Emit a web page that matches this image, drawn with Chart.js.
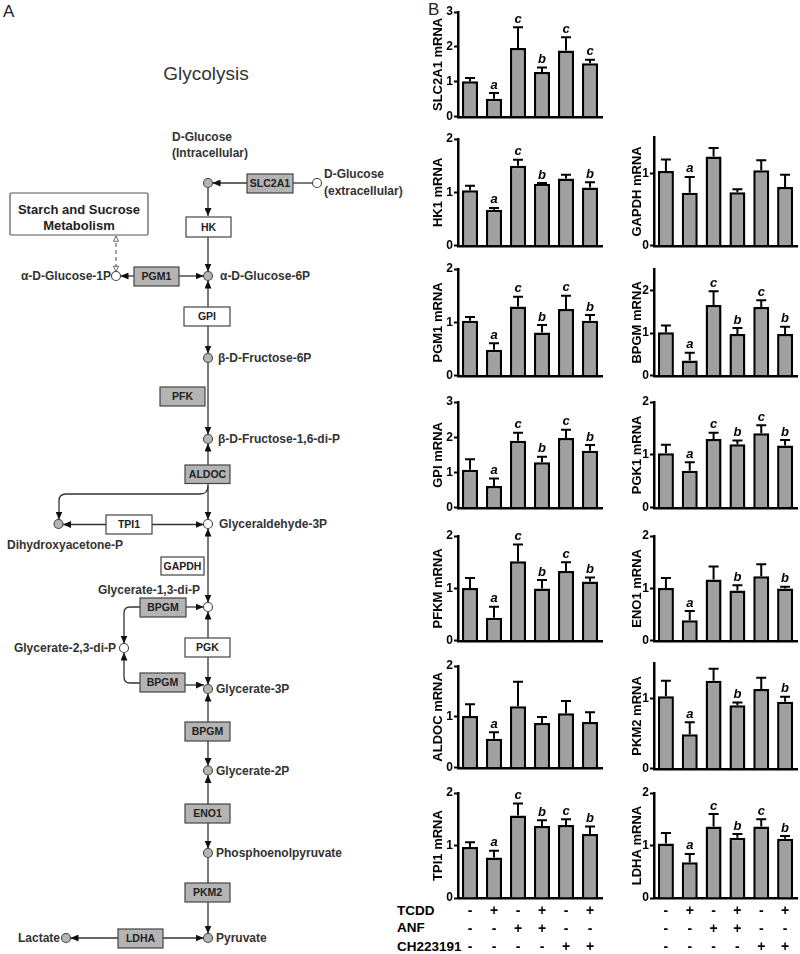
<!DOCTYPE html>
<html>
<head>
<meta charset="utf-8">
<script src="https://cdn.jsdelivr.net/npm/chart.js@4.4.1/dist/chart.umd.min.js"></script>
<style>
  body { margin: 0; background: #fff; }
  #fig { position: relative; width: 800px; height: 954px; overflow: hidden; font-family: 'Liberation Sans', Arial, sans-serif; }
  #fig canvas { position: absolute; }
  #diagram { position: absolute; left: 0; top: 0; }
  .trt { position: absolute; left: 397px; font-weight: bold; font-size: 13.5px; line-height: 18px; color: #000; white-space: nowrap; }
  svg text { font-family: 'Liberation Sans', Arial, sans-serif; }
  .cpd { font-weight: bold; font-size: 12px; fill: #333; }
  .enz { font-weight: bold; font-size: 10.5px; fill: #222; text-anchor: middle; }
  .ln { stroke: #333; stroke-width: 1.3; fill: none; }
</style>
</head>
<body>
<div id="fig">
  <svg id="diagram" width="800" height="954"></svg>
  <div class="trt" style="top:902px">TCDD</div>
  <div class="trt" style="top:919px">ANF</div>
  <div class="trt" style="top:938px">CH223191</div>
</div>
<script>
// ---------- data ----------
const tcddSigns = ['-', '+', '-', '+', '-', '+'];
const anfSigns  = ['-', '-', '+', '+', '-', '-'];
const chSigns   = ['-', '-', '-', '-', '+', '+'];

const ticks3 = [0, 1, 2, 3];
const ticks2 = [0, 1, 2];
const ticks1 = [0, 1];

const slc2a1Mean = [1.02, 0.52, 1.97, 1.28, 1.90, 1.53];
const slc2a1Sem  = [0.09, 0.16, 0.59, 0.13, 0.38, 0.10];
const slc2a1Sig  = ['', 'a', 'c', 'b', 'c', 'c'];

const hk1Mean = [1.04, 0.675, 1.50, 1.16, 1.26, 1.09];
const hk1Sem  = [0.085, 0.035, 0.11, 0.015, 0.07, 0.10];
const hk1Sig  = ['', 'a', 'c', 'b', '', 'b'];

const gapdhMean = [1.03, 0.73, 1.23, 0.74, 1.04, 0.81];
const gapdhSem  = [0.16, 0.22, 0.12, 0.04, 0.14, 0.17];
const gapdhSig  = ['', 'a', '', '', '', ''];

const pgm1Mean = [1.03, 0.49, 1.30, 0.81, 1.25, 1.03];
const pgm1Sem  = [0.07, 0.12, 0.18, 0.14, 0.25, 0.11];
const pgm1Sig  = ['', 'a', 'c', 'b', 'c', 'b'];

const bpgmMean = [1.02, 0.36, 1.66, 0.98, 1.61, 0.98];
const bpgmSem  = [0.16, 0.18, 0.32, 0.14, 0.16, 0.17];
const bpgmSig  = ['', 'a', 'c', 'b', 'c', 'b'];

const gpiMean = [1.08, 0.62, 1.90, 1.29, 1.98, 1.62];
const gpiSem  = [0.30, 0.21, 0.23, 0.16, 0.23, 0.16];
const gpiSig  = ['', 'a', 'c', 'b', 'c', 'b'];

const pgk1Mean = [1.03, 0.70, 1.30, 1.20, 1.41, 1.18];
const pgk1Sem  = [0.16, 0.16, 0.12, 0.07, 0.15, 0.10];
const pgk1Sig  = ['', 'a', 'c', 'b', 'c', 'b'];

const pfkmMean = [1.01, 0.44, 1.52, 1.00, 1.33, 1.13];
const pfkmSem  = [0.19, 0.21, 0.32, 0.16, 0.17, 0.08];
const pfkmSig  = ['', 'a', 'c', 'b', 'c', 'b'];

const eno1Mean = [1.01, 0.39, 1.17, 0.96, 1.23, 1.00];
const eno1Sem  = [0.19, 0.18, 0.25, 0.10, 0.23, 0.03];
const eno1Sig  = ['', 'a', '', 'b', '', 'b'];

const aldocMean = [1.02, 0.57, 1.21, 0.88, 1.07, 0.90];
const aldocSem  = [0.23, 0.13, 0.48, 0.12, 0.24, 0.19];
const aldocSig  = ['', 'a', '', '', '', ''];

const pkm2Mean = [1.03, 0.49, 1.25, 0.90, 1.13, 0.95];
const pkm2Sem  = [0.22, 0.17, 0.17, 0.04, 0.16, 0.07];
const pkm2Sig  = ['', 'a', '', 'b', '', 'b'];

const tpi1Mean = [0.97, 0.77, 1.57, 1.37, 1.39, 1.22];
const tpi1Sem  = [0.09, 0.13, 0.23, 0.11, 0.11, 0.14];
const tpi1Sig  = ['', 'a', 'c', 'b', 'c', 'b'];

const ldhaMean = [1.04, 0.68, 1.36, 1.15, 1.36, 1.13];
const ldhaSem  = [0.20, 0.16, 0.24, 0.07, 0.14, 0.05];
const ldhaSig  = ['', 'a', 'c', 'b', 'c', 'b'];

// ---------- layout ----------
const FONT = "'Liberation Sans', Arial, sans-serif";
const cols = [
  { left: 431, axis: 458, right: 602 },
  { left: 630, axis: 654, right: 797 }
];
const panels = [
  { gene: 'SLC2A1', mean: slc2a1Mean, sem: slc2a1Sem, sig: slc2a1Sig, max: 3,   ticks: ticks3, col: 0, top: 12,  zero: 117 },
  { gene: 'HK1',    mean: hk1Mean,    sem: hk1Sem,    sig: hk1Sig,    max: 2,   ticks: ticks2, col: 0, top: 139, zero: 246 },
  { gene: 'GAPDH',  mean: gapdhMean,  sem: gapdhSem,  sig: gapdhSig,  max: 1.5, ticks: ticks1, col: 1, top: 137, zero: 246 },
  { gene: 'PGM1',   mean: pgm1Mean,   sem: pgm1Sem,   sig: pgm1Sig,   max: 2,   ticks: ticks2, col: 0, top: 269, zero: 376 },
  { gene: 'BPGM',   mean: bpgmMean,   sem: bpgmSem,   sig: bpgmSig,   max: 2.5, ticks: ticks2, col: 1, top: 269, zero: 376 },
  { gene: 'GPI',    mean: gpiMean,    sem: gpiSem,    sig: gpiSig,    max: 3,   ticks: ticks3, col: 0, top: 402, zero: 508 },
  { gene: 'PGK1',   mean: pgk1Mean,   sem: pgk1Sem,   sig: pgk1Sig,   max: 2,   ticks: ticks2, col: 1, top: 402, zero: 508 },
  { gene: 'PFKM',   mean: pfkmMean,   sem: pfkmSem,   sig: pfkmSig,   max: 2,   ticks: ticks2, col: 0, top: 536, zero: 641 },
  { gene: 'ENO1',   mean: eno1Mean,   sem: eno1Sem,   sig: eno1Sig,   max: 2,   ticks: ticks2, col: 1, top: 536, zero: 641 },
  { gene: 'ALDOC',  mean: aldocMean,  sem: aldocSem,  sig: aldocSig,  max: 2,   ticks: ticks2, col: 0, top: 666, zero: 768 },
  { gene: 'PKM2',   mean: pkm2Mean,   sem: pkm2Sem,   sig: pkm2Sig,   max: 1.5, ticks: ticks1, col: 1, top: 663, zero: 769 },
  { gene: 'TPI1',   mean: tpi1Mean,   sem: tpi1Sem,   sig: tpi1Sig,   max: 2,   ticks: ticks2, col: 0, top: 793, zero: 898, bottom: true },
  { gene: 'LDHA',   mean: ldhaMean,   sem: ldhaSem,   sig: ldhaSig,   max: 2,   ticks: ticks2, col: 1, top: 793, zero: 898, bottom: true }
];

// ---------- pathway diagram (panel A) ----------
function drawDiagram() {
  const svg = document.getElementById('diagram');
  const G = '#b4b4b4', W = '#fff';
  const lines = [
    [247, 183, 212.5, 183, 1], [293, 183, 312.5, 183, 0],
    [208, 187.5, 208, 216, 1], [208, 237, 208, 271.5, 1],
    [179, 276, 203.5, 276, 1], [134, 276, 120.5, 276, 1],
    [208, 307, 208, 280.5, 1], [208, 326, 208, 353.5, 1],
    [208, 362.5, 208, 434.5, 1], [208, 465, 208, 443.5, 1],
    [208, 483.5, 208, 519.5, 1],
    [106, 524.5, 63, 524.5, 1], [152, 524.5, 203.5, 524.5, 1],
    [186, 607, 203.5, 607, 1], [185, 685, 204, 685, 1],
    [208, 638, 208, 611.5, 1], [208, 657, 208, 684.5, 1],
    [208, 722, 208, 693.5, 1], [208, 741, 208, 766, 1],
    [208, 804, 208, 775, 1], [208, 823, 208, 848.5, 1],
    [208, 857.5, 208, 883, 0], [208, 902, 208, 933.5, 1],
    [163, 938, 203.5, 938, 1], [118, 938, 70.5, 938, 1]
  ];
  const boxes = [
    ['SLC2A1', 247, 174, 46, 19, G], ['HK', 186, 217, 45, 20, W], ['PGM1', 134, 267, 45, 19, G],
    ['GPI', 184, 307, 46, 19, W], ['PFK', 160, 387, 45, 19, G], ['ALDOC', 185, 465, 45, 18.5, G],
    ['TPI1', 106, 515, 46, 19, W], ['GAPDH', 161, 557, 43, 18, W], ['BPGM', 140, 598, 46, 19, G],
    ['PGK', 185, 638, 45, 19, W], ['BPGM', 140, 673, 45, 19, G], ['BPGM', 185, 722, 45, 19, G],
    ['ENO1', 185, 804, 45, 19, G], ['PKM2', 185, 883, 45, 19, G], ['LDHA', 118, 929, 45, 19, G]
  ];
  const nodes = [
    [208, 183, G], [317, 183, W], [208, 276, G], [116, 276, W], [208, 358, G], [208, 439, G],
    [208, 524, W], [58.5, 524, G], [208, 607, W], [124, 648, W], [208, 689, G], [208, 770.5, G],
    [208, 853, G], [208, 938, G], [66, 938, G]
  ];
  const labels = [
    ['D-Glucose', 172, 141, 'start'], ['(Intracellular)', 172, 157, 'start'],
    ['D-Glucose', 324, 178, 'start'], ['(extracellular)', 324, 195, 'start'],
    ['α-D-Glucose-6P', 220, 280, 'start'], ['α-D-Glucose-1P', 111, 280, 'end'],
    ['β-D-Fructose-6P', 218, 362, 'start'], ['β-D-Fructose-1,6-di-P', 218, 443, 'start'],
    ['Glyceraldehyde-3P', 219, 528, 'start'], ['Dihydroxyacetone-P', 7, 549, 'start'],
    ['Glycerate-1,3-di-P', 200, 593.5, 'end'], ['Glycerate-2,3-di-P', 116, 652, 'end'],
    ['Glycerate-3P', 216, 693, 'start'], ['Glycerate-2P', 216, 775, 'start'],
    ['Phosphoenolpyruvate', 216, 857, 'start'], ['Pyruvate', 216, 942, 'start'],
    ['Lactate', 60, 942, 'end']
  ];

  let s = `<defs>
    <marker id="ah" viewBox="0 0 8 7" refX="8" refY="3.5" markerWidth="8" markerHeight="7" markerUnits="userSpaceOnUse" orient="auto-start-reverse"><path d="M0,0L8,3.5L0,7z" fill="#111"/></marker>
    <marker id="oh" viewBox="0 0 8 8" refX="7" refY="4" markerWidth="7" markerHeight="7" markerUnits="userSpaceOnUse" orient="auto-start-reverse"><path d="M1,1L7,4L1,7z" fill="#fff" stroke="#555" stroke-width="1"/></marker>
  </defs>`;
  s += `<text x="3" y="17" font-size="17" fill="#222">A</text>`;
  s += `<text x="428" y="15" font-size="17" fill="#222">B</text>`;
  s += `<text x="206" y="80" font-size="19" fill="#333" text-anchor="middle">Glycolysis</text>`;

  lines.forEach(([x1, y1, x2, y2, arrow]) => {
    s += `<line class="ln" x1="${x1}" y1="${y1}" x2="${x2}" y2="${y2}"${arrow ? ' marker-end="url(#ah)"' : ''}/>`;
  });
  // two-headed and curved links
  s += `<line class="ln" x1="208" y1="528.5" x2="208" y2="602.5" marker-start="url(#ah)" marker-end="url(#ah)"/>`;
  s += `<path class="ln" d="M208,486 Q208,494 200,494 L66,494 Q59,494 59,501 L59,519.5" marker-end="url(#ah)"/>`;
  s += `<path class="ln" d="M140,607 L130,607 Q124,607 124,613 L124,643.5" marker-end="url(#ah)"/>`;
  s += `<path class="ln" d="M124,652.5 L124,677 Q124,683 130,683 L140,683" marker-start="url(#ah)"/>`;
  s += `<line x1="116" y1="236" x2="116" y2="271.5" stroke="#555" stroke-width="1.1" stroke-dasharray="4,3" marker-start="url(#oh)" marker-end="url(#oh)"/>`;

  // starch box
  s += `<rect x="10" y="193" width="138" height="42" fill="#fff" stroke="#555" stroke-width="1.2" rx="1.5"/>`;
  s += `<text x="79" y="214" font-size="13" font-weight="bold" fill="#222" text-anchor="middle">Starch and Sucrose</text>`;
  s += `<text x="79" y="230" font-size="13" font-weight="bold" fill="#222" text-anchor="middle">Metabolism</text>`;

  boxes.forEach(([t, x, y, w, h, f]) => {
    s += `<rect x="${x}" y="${y}" width="${w}" height="${h}" fill="${f}" stroke="#444" stroke-width="1.2"/>`;
    s += `<text class="enz" x="${x + w / 2}" y="${y + h / 2 + 3.8}">${t}</text>`;
  });
  nodes.forEach(([x, y, f]) => {
    s += `<circle cx="${x}" cy="${y}" r="4.5" fill="${f}" stroke="#444" stroke-width="1.1"/>`;
  });
  labels.forEach(([t, x, y, a]) => {
    s += `<text class="cpd" x="${x}" y="${y}" text-anchor="${a}">${t}</text>`;
  });
  svg.innerHTML = s;
}

// ---------- error bars + significance letters ----------
const errorBars = {
  id: 'errorBars',
  afterDatasetsDraw(chart) {
    const { ctx } = chart;
    const ds = chart.data.datasets[0];
    const y = chart.scales.y;
    chart.getDatasetMeta(0).data.forEach((bar, i) => {
      const top = y.getPixelForValue(ds.data[i] + ds.sem[i]);
      ctx.save();
      ctx.strokeStyle = '#000';
      ctx.lineWidth = 2;
      ctx.beginPath();
      ctx.moveTo(bar.x, bar.y);
      ctx.lineTo(bar.x, top);
      ctx.moveTo(bar.x - 5, top);
      ctx.lineTo(bar.x + 5, top);
      ctx.stroke();
      if (ds.sig[i]) {
        ctx.fillStyle = '#000';
        ctx.font = `italic bold 13px ${FONT}`;
        ctx.textAlign = 'center';
        ctx.textBaseline = 'bottom';
        ctx.fillText(ds.sig[i], bar.x, top - 1.5);
      }
      ctx.restore();
    });
  }
};

function makePanel(p) {
  const c = cols[p.col];
  const padTop = 10, padBottom = p.bottom ? 0 : 8;
  const xH = p.bottom ? 954 - p.zero : 0;
  const canvas = document.createElement('canvas');
  canvas.width = c.right + 3 - c.left;
  canvas.height = padTop + (p.zero - p.top) + xH + padBottom;
  canvas.style.left = c.left + 'px';
  canvas.style.top = (p.top - padTop) + 'px';
  document.getElementById('fig').appendChild(canvas);

  const labels = tcddSigns.map((t, i) => [t, anfSigns[i], chSigns[i]]);

  new Chart(canvas, {
    type: 'bar',
    data: {
      labels,
      datasets: [{
        data: p.mean, sem: p.sem, sig: p.sig,
        backgroundColor: '#a0a0a0', borderColor: '#000', borderWidth: 2.5,
        categoryPercentage: 1, barPercentage: 0.67
      }]
    },
    options: {
      responsive: false, animation: false,
      layout: { padding: { top: padTop, bottom: padBottom, left: 0, right: 3 } },
      plugins: { legend: { display: false }, tooltip: { enabled: false } },
      scales: {
        x: {
          grid: { display: false, drawTicks: false },
          border: { display: true, color: '#000', width: 2.5 },
          ticks: {
            display: !!p.bottom, color: '#000', padding: 3.7, maxRotation: 0, autoSkip: false,
            font: { family: FONT, size: 14, weight: 'bold', lineHeight: 18 / 14 }
          },
          afterFit: (s) => { s.height = xH; }
        },
        y: {
          min: 0, max: p.max,
          afterBuildTicks: (s) => { s.ticks = p.ticks.map((v) => ({ value: v })); },
          afterFit: (s) => { s.width = c.axis - c.left; },
          grid: { drawOnChartArea: false, drawTicks: true, tickLength: 4, tickWidth: 2, tickColor: '#000' },
          border: { display: true, color: '#000', width: 2.5 },
          ticks: { color: '#000', padding: 1, font: { family: FONT, size: 12, weight: 'bold' } },
          title: {
            display: true, text: p.gene + ' mRNA', color: '#000', padding: 0,
            font: { family: FONT, size: 13, weight: 'bold' }
          }
        }
      }
    },
    plugins: [errorBars]
  });
}

drawDiagram();
panels.forEach(makePanel);
</script>
</body>
</html>
